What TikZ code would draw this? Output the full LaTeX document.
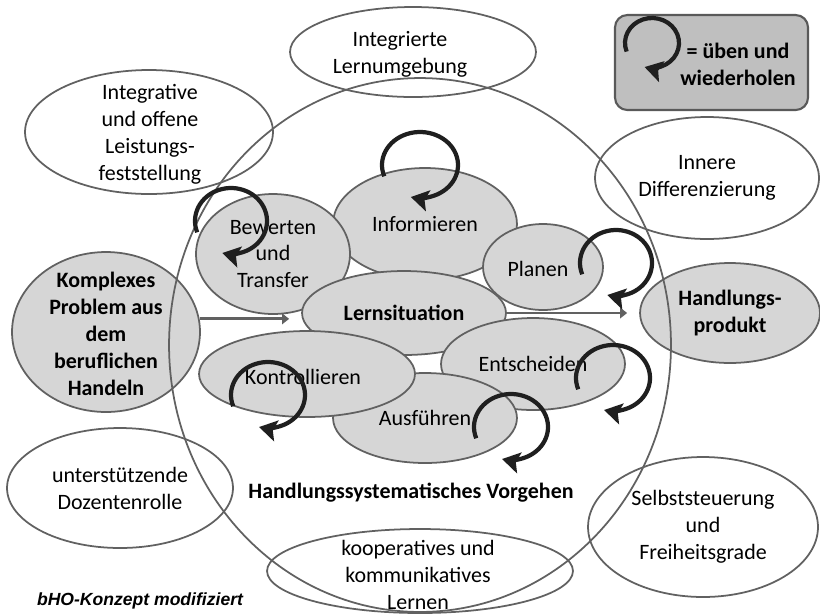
\documentclass[tikz,border=0pt]{standalone}
\usepackage{fontspec}
\setmainfont{Carlito}
\newfontfamily\notefont{Liberation Sans}
\usetikzlibrary{shapes.geometric, arrows.meta}
\tikzstyle{aspect} = [
	ellipse,
	draw=black!62,
	line width=1pt,
	inner sep=0pt,
	align=center,
	font=\fontsize{12.5}{15.3}\selectfont
]
\tikzstyle{phase} = [aspect, fill=black!16]
\tikzstyle{words} = [align=center, font=\fontsize{12.5}{15.3}\selectfont]
\tikzstyle{heavy} = [font=\fontsize{12.5}{15.3}\selectfont\bfseries]
\tikzstyle{legendbox} = [
	rectangle,
	rounded corners=7pt,
	draw=black!65,
	line width=1.2pt,
	fill=black!25
]
\tikzstyle{arrow} = [draw=black!62, line width=1.6pt, -{Triangle[length=4pt, width=6pt]}]
\tikzstyle{circling} = [black!88, line width=2.4pt, -{Stealth[length=10pt, width=12pt, inset=2pt]}]

\begin{document}
\begin{tikzpicture}[x=0.02cm, y=0.02cm]
            \useasboundingbox (0,0) rectangle (820,-613);
            % outer ring
            \node (problem) [phase, minimum width=3.76cm, minimum height=3.2cm] at (106,-332) {};
            \node (produkt) [phase, heavy, minimum width=3.6cm, minimum height=2cm] at (730,-313) {Handlungs-\\produkt};
            \node (lernumg) [aspect, minimum width=4.92cm, minimum height=1.8cm] at (413,-52) {};
            \node (leistung) [aspect, minimum width=4.96cm, minimum height=2.48cm] at (149,-132) {};
            \node (differenz) [aspect, minimum width=4.48cm, minimum height=2.44cm] at (707,-178) {Innere\\Differenzierung};
            \node (dozent) [aspect, minimum width=4.52cm, minimum height=2.4cm] at (120,-488) {unterstützende\\Dozentenrolle};
            \node (koop) [aspect, minimum width=6.12cm, minimum height=1.68cm] at (420,-571) {};
            \node (selbst) [aspect, minimum width=4.6cm, minimum height=2.8cm] at (703,-527) {Selbststeuerung\\und\\Freiheitsgrade};
            \node (ring) [aspect, minimum width=10.04cm, minimum height=10.68cm] at (420,-345) {};
            % phases
            \node (inform) [phase, minimum width=3.68cm, minimum height=2.24cm] at (425,-224) {Informieren};
            \node (planen) [phase, minimum width=2.4cm, minimum height=1.72cm] at (543,-267) {};
            \node (bewerten) [phase, minimum width=3.08cm, minimum height=2.4cm] at (273,-254) {Bewerten\\und\\Transfer};
            \node (lernsit) [phase, heavy, minimum width=4.08cm, minimum height=1.68cm] at (404,-313) {Lernsituation};
            \node (entsch) [phase, minimum width=3.68cm, minimum height=1.84cm] at (533,-364) {Entscheiden};
            \node (ausf) [phase, minimum width=3.68cm, minimum height=1.8cm] at (425,-418) {Ausführen};
            \node (kontroll) [phase, minimum width=4.32cm, minimum height=1.72cm] at (307,-374) {};
            % texts that do not fit their ellipse
            \node (problem-t) [words, heavy] at (106,-334) {Komplexes\\Problem aus\\dem\\beruflichen\\Handeln};
            \node (lernumg-t) [words] at (400,-54) {Integrierte\\Lernumgebung};
            \node (leistung-t) [words] at (150,-134) {Integrative\\und offene\\Leistungs-\\feststellung};
            \node (koop-t) [words] at (418,-575) {kooperatives und\\kommunikatives\\Lernen};
            \node (planen-t) [words] at (538,-269) {Planen};
            \node (kontroll-t) [words] at (303,-377) {Kontrollieren};
            \node (vorgehen) [words, heavy] at (411,-493) {Handlungssystematisches Vorgehen};
            \node (quelle) [font=\notefont\fontsize{10}{12}\selectfont\bfseries\itshape] at (140,-601) {bHO-Konzept modifiziert};
            % legend
            \node (legend) [legendbox, minimum width=3.86cm, minimum height=1.9cm] at (711.5,-62.5) {};
            \node (legend-t) [words, heavy] at (738,-64) {= üben und\\wiederholen};
            \draw [arrow, shorten >=0.24cm] (problem.8) -- (problem.8 -| lernsit.west);
            \draw [arrow, shorten >=0.24cm] (lernsit.east) -- (produkt.west);
            % practice loops
            \draw [circling] (652,-43) ++(200:27 and 25) arc [start angle=200, end angle=-106, x radius=27, y radius=25];
            \draw [circling] (420,-165) ++(200:38 and 33) arc [start angle=200, end angle=-104, x radius=38, y radius=33];
            \draw [circling] (231,-221) ++(200:36 and 33) arc [start angle=200, end angle=-104, x radius=36, y radius=33];
            \draw [circling] (616,-263) ++(200:36 and 33) arc [start angle=200, end angle=-104, x radius=36, y radius=33];
            \draw [circling] (268,-395) ++(200:37 and 33) arc [start angle=200, end angle=-104, x radius=37, y radius=33];
            \draw [circling] (613,-378) ++(200:37 and 33) arc [start angle=200, end angle=-104, x radius=37, y radius=33];
            \draw [circling] (511,-427) ++(200:37 and 33) arc [start angle=200, end angle=-104, x radius=37, y radius=33];
          \end{tikzpicture}
\end{document}
